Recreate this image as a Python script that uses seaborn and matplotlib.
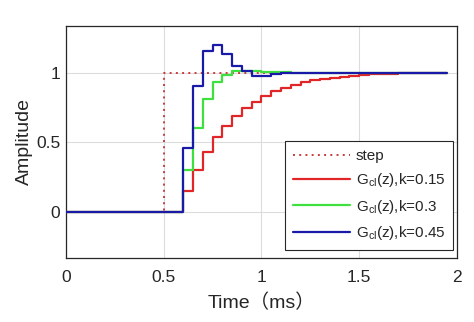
import numpy as np
import pandas as pd
import matplotlib
matplotlib.use("Agg")
import matplotlib.pyplot as plt
import seaborn as sns

sns.set_style("whitegrid")
plt.rcParams["font.family"] = ["Liberation Sans", "Noto Sans CJK SC", "DejaVu Sans"]
plt.rcParams["mathtext.fontset"] = "custom"
plt.rcParams["mathtext.rm"] = "Liberation Sans"
plt.rcParams["mathtext.it"] = "Liberation Sans:italic"

# sampled closed-loop step responses (sample time 0.05 ms)
time_ms = np.round(np.arange(0, 1.951, 0.05), 2)
lead = [0.0] * 12  # samples before the response starts (t < 0.6 ms)
resp_k015 = lead + [0.15, 0.30, 0.43, 0.535, 0.62, 0.685, 0.745, 0.79, 0.835, 0.865,
                    0.89, 0.91, 0.93, 0.945, 0.955, 0.965, 0.972, 0.978, 0.983, 0.987,
                    0.99, 0.992, 0.994, 0.996, 0.997, 0.998, 0.999, 0.999]
resp_k030 = lead + [0.30, 0.60, 0.81, 0.93, 0.985, 1.01, 1.012, 1.01, 1.006, 1.003,
                    1.002, 1.001, 1.0, 1.0, 1.0, 1.0, 1.0, 1.0, 1.0, 1.0,
                    1.0, 1.0, 1.0, 1.0, 1.0, 1.0, 1.0, 1.0]
resp_k045 = lead + [0.46, 0.905, 1.155, 1.20, 1.135, 1.045, 1.01, 0.975, 0.975, 0.99,
                    0.995, 0.998, 1.0, 1.0, 1.0, 1.0, 1.0, 1.0, 1.0, 1.0,
                    1.0, 1.0, 1.0, 1.0, 1.0, 1.0, 1.0, 1.0]
step_time = [0.0, 0.5, 0.5, 1.95]
step_amp = [0.0, 0.0, 1.0, 1.0]

labels = [r"G$_{\mathrm{cl}}$(z),k=0.15",
          r"G$_{\mathrm{cl}}$(z),k=0.3",
          r"G$_{\mathrm{cl}}$(z),k=0.45"]
colors = ["#e02626", "#3ee03e", "#1a1aa8"]

df = pd.DataFrame({
    "t": np.tile(time_ms, 3),
    "amp": resp_k015 + resp_k030 + resp_k045,
    "series": np.repeat(labels, len(time_ms)),
})

fig = plt.figure(figsize=(4.74, 3.22), dpi=100)
ax = fig.add_axes([0.139, 0.2, 0.825, 0.719])

ax.plot(step_time, step_amp, color="#c83c3c", linestyle=(0, (1, 2.2)),
        linewidth=1.4, label="step", zorder=2)
sns.lineplot(data=df, x="t", y="amp", hue="series", palette=colors,
             drawstyle="steps-post", linewidth=1.6, ax=ax, legend=False, zorder=3)
for lab, col in zip(labels, colors):
    ax.plot([], [], color=col, linewidth=1.6, label=lab)

ax.set_xlim(0, 2)
ax.set_ylim(-0.33, 1.335)
ax.set_xticks([0, 0.5, 1, 1.5, 2])
ax.set_xticklabels(["0", "0.5", "1", "1.5", "2"])
ax.set_yticks([0, 0.5, 1])
ax.set_yticklabels(["0", "0.5", "1"])
ax.grid(True, color="#dcdcdc", linewidth=0.8)
for s in ax.spines.values():
    s.set_color("#262626")
    s.set_linewidth(0.9)
ax.tick_params(direction="in", length=3, width=0.8, colors="#262626",
               labelsize=12.5)
ax.tick_params(axis="x", pad=9)
ax.tick_params(axis="y", pad=4)
ax.set_xlabel("Time（ms）", fontsize=14, color="#262626", labelpad=6)
ax.set_ylabel("Amplitude", fontsize=14, color="#262626", labelpad=2)

leg = ax.legend(loc="lower right", bbox_to_anchor=(0.99, 0.034), borderaxespad=0,
                fontsize=11, frameon=True, fancybox=False,
                edgecolor="#262626", framealpha=1, handlelength=3.7,
                labelspacing=0.55, handletextpad=0.4, borderpad=0.5)
leg.get_frame().set_linewidth(0.8)

fig.savefig("out.png", dpi=100)
